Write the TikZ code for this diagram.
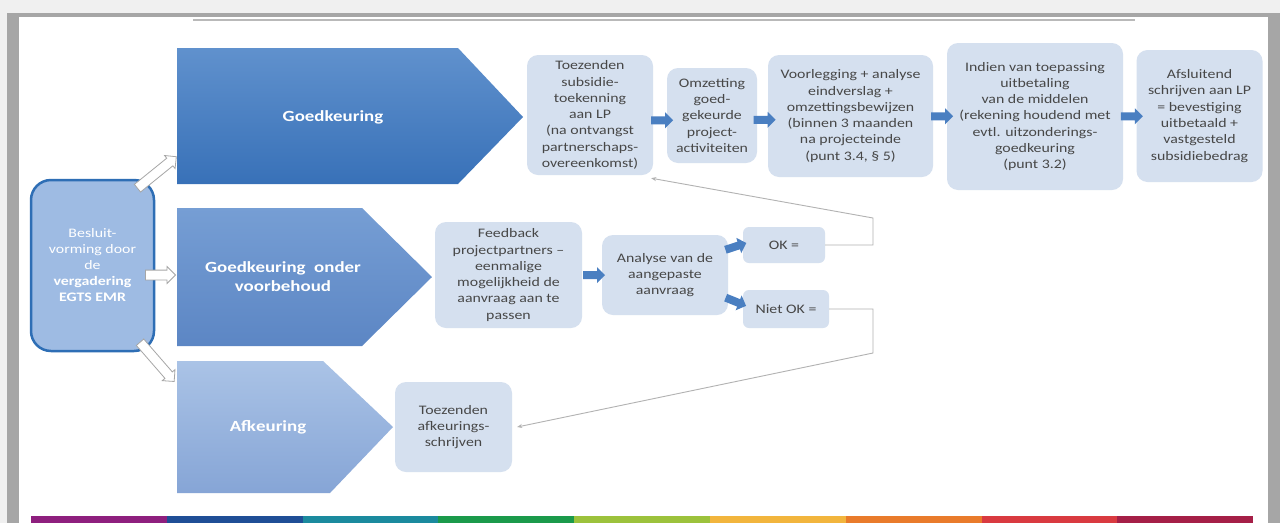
\documentclass[tikz,border=0pt]{standalone}
\usepackage{fontspec}
\setmainfont[FakeStretch=1.22]{Carlito}
\usetikzlibrary{shapes.arrows,arrows.meta,calc}

\definecolor{kaderGrijs}{HTML}{A6A6A6}
\definecolor{vakBlauw}{HTML}{D5E0EF}
\definecolor{tekstGrijs}{HTML}{474747}
\definecolor{pijlBlauw}{HTML}{4A7FC1}
\definecolor{randBlauw}{HTML}{2E6EB5}

\tikzset{
	vak/.style={rectangle,rounded corners=11pt,fill=vakBlauw,text=tekstGrijs,align=center,inner sep=2pt,font=\fontsize{13}{16.3}\selectfont},
	blokpijl/.style={single arrow,fill=pijlBlauw,inner xsep=0pt,inner ysep=3.8pt,minimum height=22pt,single arrow head extend=4pt},
	witpijl/.style={single arrow,fill=white,draw=gray!70,line width=0.8pt,inner xsep=0pt,inner ysep=4.5pt,single arrow head extend=3.5pt},
	lijn/.style={draw=gray!60,line width=0.9pt},
	vijfhoektekst/.style={text=white,font=\fontsize{15.5}{19}\selectfont\bfseries,align=center}
}

\begin{document}
\begin{tikzpicture}[x=1pt,y=-1pt]
	\useasboundingbox (0,0) rectangle (1280,523);
	% kader
	\fill[gray!12] (0,0) rectangle (1280,523);
	\fill[kaderGrijs] (7,13) rectangle (1280,523);
	\fill[white] (19,17) rectangle (1268,523);
	\draw[line width=2pt,color=gray!55] (193,20) -- (1135,20);

	% kleurenbalk
	\foreach \kleur [count=\i from 0] in {8E1F7E,1F4E96,1B8A9E,1B9A4B,9CC23C,F2B53D,E97B2B,D93A40,A51F47} {
		\definecolor{balk}{HTML}{\kleur}
		\fill[balk] (31+\i*135.8,516) rectangle (31+\i*135.8+135.8,523);
	}

	% vijfhoeken
	\shade[top color={rgb,255:red,96;green,145;blue,205},bottom color={rgb,255:red,56;green,113;blue,184}]
		(177,48) -- (458,48) -- (523,117) -- (458,184) -- (177,184) -- cycle;
	\shade[top color={rgb,255:red,118;green,158;blue,212},bottom color={rgb,255:red,92;green,134;blue,196}]
		(177,208) -- (362,208) -- (432,277) -- (362,346) -- (177,346) -- cycle;
	\shade[top color={rgb,255:red,170;green,195;blue,230},bottom color={rgb,255:red,134;green,165;blue,214}]
		(177,361) -- (323,361) -- (393,427) -- (330,493) -- (177,493) -- cycle;
	\node[vijfhoektekst] (goed) at (333,117) {Goedkeuring};
	\node[vijfhoektekst] (voorbehoud) at (283,277) {Goedkeuring\ \ onder\\voorbehoud};
	\node[vijfhoektekst] (afkeuring) at (268,427) {Afkeuring};

	% besluit
	\node[rectangle,rounded corners=20pt,fill={rgb,255:red,158;green,187;blue,227},draw=randBlauw,line width=2.5pt,
		minimum width=123pt,minimum height=171pt,text=white,align=center,font=\fontsize{13}{16}\selectfont] (besluit) at (92.5,265.5)
		{Besluit-\\vorming door\\de\\\textbf{vergadering}\\\textbf{EGTS EMR}};
	\node[witpijl,minimum height=50pt,rotate=39] (w1) at (155,174) {};
	\node[witpijl,minimum height=30pt] (w2) at (158,275) {};
	\node[witpijl,minimum height=52pt,rotate=-49] (w3) at (155.5,360) {};

	% bovenste rij
	\node[vak,minimum width=126pt,minimum height=120pt] (toezenden) at (590,115)
		{Toezenden\\subsidie-\\toekenning\\aan LP\\(na ontvangst\\partnerschaps-\\overeenkomst)};
	\node[vak,minimum width=90pt,minimum height=95pt] (omzetting) at (712,115.5)
		{Omzetting\\goed-\\gekeurde\\project-\\activiteiten};
	\node[vak,minimum width=165pt,minimum height=122pt] (voorlegging) at (850.5,116)
		{Voorlegging + analyse\\eindverslag +\\omzettingsbewijzen\\(binnen 3 maanden\\na projecteinde\\(punt 3.4, § 5)};
	\node[vak,minimum width=176pt,minimum height=147pt] (uitbetaling) at (1035,116.5)
		{Indien van toepassing\\uitbetaling\\van de middelen\\(rekening houdend met\\evtl. uitzonderings-\\goedkeuring\\(punt 3.2)};
	\node[vak,minimum width=126pt,minimum height=132pt] (afsluitend) at (1199.5,116)
		{Afsluitend\\schrijven aan LP\\= bevestiging\\uitbetaald +\\vastgesteld\\subsidiebedrag};

	% middelste rij
	\node[vak,minimum width=147pt,minimum height=106pt] (feedback) at (508.5,275)
		{Feedback\\projectpartners –\\eenmalige\\mogelijkheid de\\aanvraag aan te\\passen};
	\node[vak,minimum width=126pt,minimum height=80pt] (analyse) at (665,275)
		{Analyse van de\\aangepaste\\aanvraag};
	\node[vak,rounded corners=6pt,minimum width=82pt,minimum height=36pt] (ok) at (784,245) {OK =};
	\node[vak,rounded corners=6pt,minimum width=86pt,minimum height=38pt] (nietok) at (786,309) {Niet OK =};

	% onderste rij
	\node[vak,minimum width=117pt,minimum height=90pt] (afkschrijven) at (453.5,427)
		{Toezenden\\afkeurings-\\schrijven};

	% blauwe pijlen
	\node[blokpijl] at ($(toezenden.east)!.5!(omzetting.west)+(0,5)$) {};
	\node[blokpijl] at ($(omzetting.east)!.5!(voorlegging.west)+(0,4)$) {};
	\node[blokpijl] at ($(voorlegging.east)!.5!(uitbetaling.west)$) {};
	\node[blokpijl] at ($(uitbetaling.east)!.5!(afsluitend.west)$) {};
	\node[blokpijl] at ($(feedback.east)!.5!(analyse.west)$) {};
	\node[blokpijl,rotate=18] at (734,247) {};
	\node[blokpijl,rotate=-22] at (734,301) {};

	% terugkoppeling
	\draw[lijn,-{Stealth[length=5pt,width=4pt]}] (ok.east) -| (873,218) -- ([xshift=-2pt,yshift=-3pt]toezenden.south east);
	\draw[lijn,-{Stealth[length=5pt,width=4pt]}] (nietok.east) -| (873,353) -- ([xshift=5pt]afkschrijven.east);
\end{tikzpicture}
\end{document}
